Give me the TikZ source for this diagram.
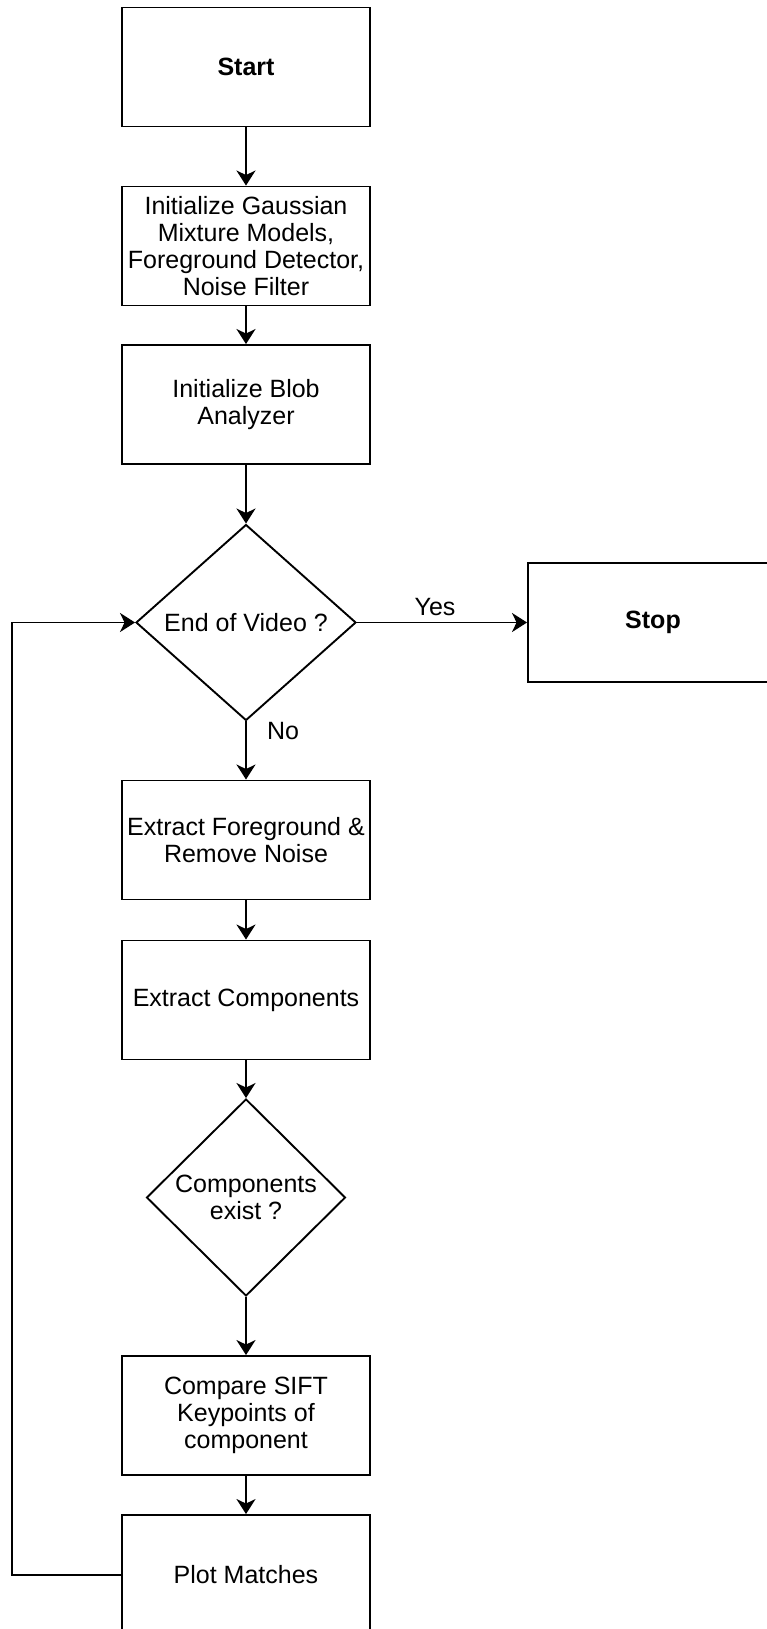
\documentclass[tikz,border=0pt]{standalone}
\usepackage{fontspec}
\setmainfont{Liberation Sans}
\usetikzlibrary{arrows.meta,shapes.geometric}
\begin{document}
\begin{tikzpicture}[x=1pt,y=-1pt,
  every node/.style={font=\fontsize{25}{27.2}\selectfont, align=center, text=black},
  proc/.style={draw, line width=1.9pt, rectangle, inner sep=0pt, minimum width=248pt, minimum height=119pt},
  dec/.style={draw, line width=1.9pt, diamond, inner sep=0pt},
  conn/.style={line width=1.9pt, -{Stealth[length=15pt,width=19pt,inset=4.5pt]}},
  lbl/.style={inner sep=0pt}]
\clip (0,0) rectangle (767,1629);
\fill[white] (0,0) rectangle (767,1629);
\node[proc] (start) at (246,67) {\bfseries Start};
\node[proc] (init) at (246,246) {Initialize Gaussian\\Mixture Models,\\Foreground Detector,\\Noise Filter};
\node[proc] (blob) at (246,404.5) {Initialize Blob\\Analyzer};
\node[dec, minimum width=220pt, minimum height=196pt] (dec1) at (246,622.5) {End of Video ?};
\node[proc, minimum width=250pt] (stop) at (653,622.5) {\bfseries Stop};
\node[proc] (fg) at (246,840) {Extract Foreground \&\\Remove Noise};
\node[proc] (comp) at (246,1000) {Extract Components};
\node[dec, minimum width=199pt, minimum height=197pt] (dec2) at (246,1197.5) {Components\\exist ?};
\node[proc] (sift) at (246,1415.5) {Compare SIFT\\Keypoints of\\component};
\node[proc, minimum height=120pt] (plot) at (246,1575) {Plot Matches};
\node[lbl] (yes) at (435,607) {Yes};
\node[lbl] (no) at (283,731) {No};
\coordinate (loopc) at (12,622.5);
\draw[conn] (start) -- (init);
\draw[conn] (init) -- (blob);
\draw[conn] (blob) -- (dec1);
\draw[conn] (dec1) -- (stop);
\draw[conn] (dec1) -- (fg);
\draw[conn] (fg) -- (comp);
\draw[conn] (comp) -- (dec2);
\draw[conn] (dec2) -- (sift);
\draw[conn] (sift) -- (plot);
\draw[conn] (plot.west) -| (loopc) -- (dec1.west);
\end{tikzpicture}
\end{document}
